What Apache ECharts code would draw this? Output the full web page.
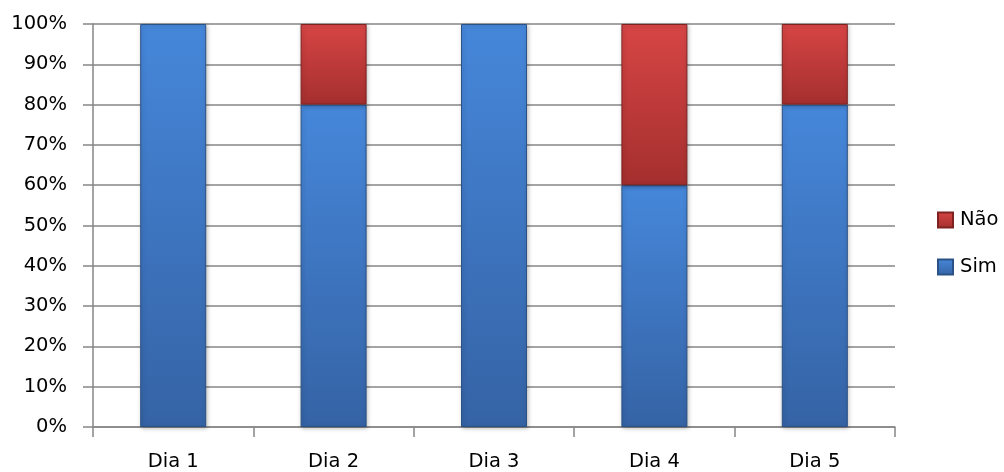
<!DOCTYPE html>
<html>
<head>
<meta charset="utf-8">
<script src="https://cdn.jsdelivr.net/npm/echarts@6/dist/echarts.min.js"></script>
<style>
html,body{margin:0;padding:0;background:#fff;}
#chart{width:1004px;height:472px;}
</style>
</head>
<body>
<div id="chart"></div>
<script>
const categories = ['Dia 1', 'Dia 2', 'Dia 3', 'Dia 4', 'Dia 5'];
const simValues = [100, 80, 100, 60, 80];
const naoValues = [0, 20, 0, 40, 20];
const yTicks = [0, 10, 20, 30, 40, 50, 60, 70, 80, 90, 100];

const FONT = 'DejaVu Sans';
const FS = 19.5;

function grad(top, bottom) {
  return new echarts.graphic.LinearGradient(0, 0, 0, 1, [
    { offset: 0, color: top },
    { offset: 1, color: bottom }
  ]);
}
// zero-height segments are not drawn
const skipZero = arr => arr.map(v => (v === 0 ? '-' : v));

const chart = echarts.init(document.getElementById('chart'), null, { renderer: 'canvas' });
chart.setOption({
  animation: false,
  backgroundColor: '#ffffff',
  textStyle: { fontFamily: FONT },
  grid: { left: 93, right: 109, top: 24, bottom: 45, containLabel: false },
  legend: {
    orient: 'vertical',
    left: 937,
    top: 210,
    padding: 0,
    itemWidth: 15,
    itemHeight: 15,
    itemGap: 27,
    icon: 'rect',
    data: ['Não', 'Sim'],
    textStyle: { fontFamily: FONT, fontSize: FS, lineHeight: 20, color: '#000', padding: [0, 0, 0, 2] }
  },
  xAxis: {
    type: 'category',
    data: categories,
    axisLine: { show: true, lineStyle: { color: '#868686', width: 1.5 } },
    axisTick: { show: true, length: 10, alignWithLabel: false, lineStyle: { color: '#868686', width: 1.5 } },
    axisLabel: { fontFamily: FONT, fontSize: FS, color: '#000', margin: 25 },
    splitLine: { show: false }
  },
  yAxis: {
    type: 'value',
    min: yTicks[0],
    max: yTicks[yTicks.length - 1],
    interval: 10,
    axisLine: { show: true, lineStyle: { color: '#868686', width: 1.5 } },
    axisTick: { show: true, length: 10, lineStyle: { color: '#868686', width: 1.5 } },
    axisLabel: { fontFamily: FONT, fontSize: FS, color: '#000', margin: 26, formatter: v => v + '%' },
    splitLine: { show: true, lineStyle: { color: '#868686', width: 1.5 } }
  },
  series: [
    {
      name: 'Sim',
      type: 'bar',
      stack: 'total',
      data: skipZero(simValues),
      barWidth: 66,
      itemStyle: {
        color: grad('#4687da', '#3563a5'),
        borderColor: '#2a5286',
        borderWidth: 1,
        shadowColor: 'rgba(0,0,0,0.25)',
        shadowBlur: 4,
        shadowOffsetX: 1,
        shadowOffsetY: 1
      }
    },
    {
      name: 'Não',
      type: 'bar',
      stack: 'total',
      data: skipZero(naoValues),
      barWidth: 66,
      itemStyle: {
        color: grad('#d74545', '#a42f2e'),
        borderColor: '#7e2322',
        borderWidth: 1,
        shadowColor: 'rgba(0,0,0,0.25)',
        shadowBlur: 4,
        shadowOffsetX: 1,
        shadowOffsetY: 1
      }
    }
  ]
});
</script>
</body>
</html>
